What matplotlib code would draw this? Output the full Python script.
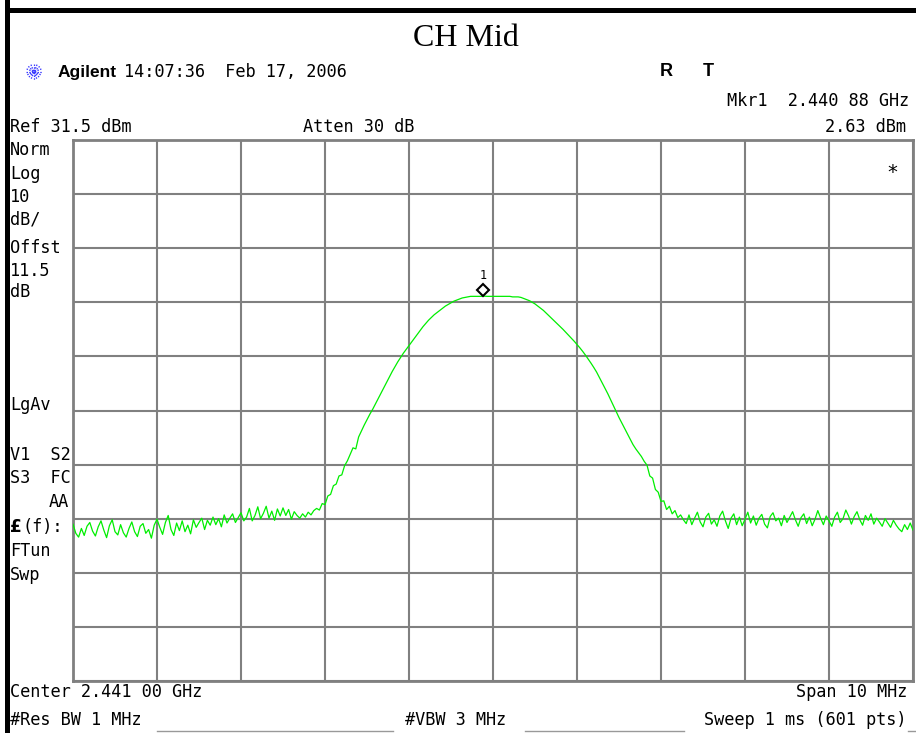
import numpy as np
import matplotlib
matplotlib.use("Agg")
import matplotlib.pyplot as plt
import matplotlib.transforms as mtransforms

# analyzer settings
center_ghz = 2.441
span_mhz = 10.0
ref_dbm = 31.5
db_per_div = 10.0
mkr_freq_ghz = 2.44088
mkr_level_dbm = 2.63

# trace levels (dBm), 301 samples across the span
floor_left = [
    -39.5, -41.2, -41.9, -40.3, -41.6, -39.9, -39.2, -40.8, -41.7, -40.0,
    -38.9, -40.6, -42.0, -39.8, -38.7, -40.9, -41.5, -39.6, -41.1, -41.9,
    -40.3, -39.1, -40.9, -41.8, -39.9, -39.4, -41.2, -40.5, -42.1, -39.7,
    -38.6, -40.1, -41.4, -39.2, -37.9, -40.5, -41.6, -39.3, -40.7, -38.9,
    -40.9, -39.7, -41.3, -38.7, -40.1, -39.2, -38.4, -40.5, -38.8, -39.7,
    -38.2, -39.6, -38.5, -40.0, -37.8, -39.3, -38.4, -37.6, -39.2, -38.3,
    -37.4, -38.9, -38.2, -36.6, -38.9, -37.9, -36.3, -38.5, -37.5, -36.2,
    -38.4, -37.1, -38.8, -36.7, -38.0, -36.5, -37.9, -36.8, -38.6, -37.2, -37.9,
]
rise = [
    -38.4, -37.6, -38.2, -37.3, -37.8, -37.0, -36.6,
    -36.9, -35.7, -35.9, -34.3, -34.0, -32.4, -32.1, -30.6, -30.4, -28.7,
    -27.8, -26.6, -25.4, -25.6, -23.4, -22.3, -21.2, -20.2, -19.2, -18.3,
    -17.3, -16.3, -15.3, -14.3, -13.3, -12.3, -11.3, -10.4, -9.5, -8.7,
    -7.9, -7.2, -6.5, -5.8, -5.1, -4.4, -3.7, -3.0, -2.4, -1.8,
    -1.3, -0.8, -0.4, 0.0, 0.4, 0.8, 1.1, 1.4, 1.7, 1.9,
    2.1, 2.3, 2.4, 2.5,
]
top = [2.6, 2.6, 2.6, 2.6, 2.6, 2.63, 2.6, 2.6, 2.6, 2.6, 2.6, 2.6, 2.6, 2.6, 2.6, 2.5]
fall = [
    2.5, 2.5, 2.4, 2.2, 2.0, 1.8, 1.5, 1.2, 0.8, 0.4,
    0.0, -0.5, -1.0, -1.5, -2.0, -2.5, -3.0, -3.5, -4.05, -4.6,
    -5.15, -5.7, -6.3, -6.9, -7.55, -8.25, -9.0, -9.75, -10.55, -11.4,
    -12.4, -13.4, -14.4, -15.4, -16.5, -17.6, -18.7, -19.8, -20.8, -21.8,
    -22.8, -23.8, -24.8, -25.6, -26.3, -27.0, -27.9, -28.6, -30.6, -31.0,
    -33.1, -33.6, -35.3, -35.2, -36.8, -36.2, -37.6, -37.0, -38.3, -37.8,
    -38.7,
]
floor_right = [
    -39.4, -37.8, -39.6, -38.4, -37.3, -39.1, -40.0, -38.2, -37.5, -39.5,
    -38.7, -39.9, -38.0, -37.1, -38.9, -40.3, -38.4, -37.6, -39.6, -38.2,
    -39.8, -38.6, -37.3, -39.3, -38.0, -39.7, -38.4, -37.7, -39.5, -40.2,
    -38.1, -37.4, -38.9, -38.4, -39.8, -37.9, -39.2, -38.2, -37.2, -38.7,
    -39.9, -38.3, -37.6, -39.4, -38.2, -39.8, -38.6, -37.0, -38.4, -39.6,
    -38.0, -38.9, -39.9, -38.2, -37.3, -39.2, -38.5, -36.9, -38.0, -39.5,
    -38.1, -37.2, -38.7, -39.7, -37.9, -38.8, -37.6, -39.5, -38.4, -39.1,
    -39.9, -38.5, -39.3, -40.1, -38.8, -39.7, -40.4, -40.9, -39.6, -40.5,
    -39.3, -40.6,
]
trace = np.array(floor_left + rise + top + fall + floor_right)

f_start = center_ghz - span_mhz / 2000
f_stop = center_ghz + span_mhz / 2000
freqs = np.linspace(f_start, f_stop, len(trace))

W, H = 916, 733
fig = plt.figure(figsize=(W / 100, H / 100), dpi=100)
fig.patch.set_facecolor("white")

# pixel-space layer for the screen annotations
deco = fig.add_axes([0, 0, 1, 1])
deco.set_xlim(0, W)
deco.set_ylim(H, 0)
deco.axis("off")
deco.patch.set_visible(False)

mono = "DejaVu Sans Mono"
fs = 12.2

# page frame
deco.fill_between([5, 9.5], 0, H, color="black", lw=0)
deco.fill_between([5, W], 8, 12.5, color="black", lw=0)

deco.text(466, 38, "CH Mid", family="Liberation Serif", fontsize=23,
          ha="center", va="center")

# Agilent starburst
for ang in np.arange(0, 180, 22.5):
    a = np.deg2rad(ang)
    dx, dy = 8 * np.cos(a), 8 * np.sin(a)
    deco.plot([34 - dx, 34 + dx], [72 - dy, 72 + dy], color="#3a3aff",
              lw=0.9, ls=(0, (1.2, 1.0)))
deco.text(58, 72, "Agilent", family="Liberation Sans", fontweight="bold",
          fontsize=12.5, ha="left", va="center")
deco.text(124, 72, "14:07:36  Feb 17, 2006", family=mono, fontsize=fs,
          ha="left", va="center")
deco.text(660, 72, "R", family="Liberation Sans", fontweight="bold",
          fontsize=13, ha="left", va="center")
deco.text(703, 72, "T", family="Liberation Sans", fontweight="bold",
          fontsize=13, ha="left", va="center")

deco.text(909, 101, "Mkr1  2.440 88 GHz", family=mono, fontsize=fs,
          ha="right", va="center")
deco.text(10, 127, "Ref 31.5 dBm", family=mono, fontsize=fs, ha="left", va="center")
deco.text(303, 127, "Atten 30 dB", family=mono, fontsize=fs, ha="left", va="center")
deco.text(906, 127, "2.63 dBm", family=mono, fontsize=fs, ha="right", va="center")

side = [("Norm", 150), ("Log", 174), ("10", 197), ("dB/", 220), ("Offst", 248),
        ("11.5", 271), ("dB", 292), ("LgAv", 405), ("V1  S2", 455),
        ("S3  FC", 478)]
for s, y in side:
    deco.text(10, y, s, family=mono, fontsize=fs, ha="left", va="center")
deco.text(69, 502, "AA", family=mono, fontsize=fs, ha="right", va="center")
deco.text(10, 527, "£", family="DejaVu Sans", fontweight="bold", fontsize=fs,
          ha="left", va="center")
deco.text(23, 527, "(f):", family=mono, fontsize=fs, ha="left", va="center")
deco.text(10, 551, "FTun", family=mono, fontsize=fs, ha="left", va="center")
deco.text(10, 575, "Swp", family=mono, fontsize=fs, ha="left", va="center")

deco.text(10, 692, "Center 2.441 00 GHz", family=mono, fontsize=fs, ha="left", va="center")
deco.text(907, 692, "Span 10 MHz", family=mono, fontsize=fs, ha="right", va="center")
deco.text(10, 720, "#Res BW 1 MHz", family=mono, fontsize=fs, ha="left", va="center")
deco.text(405, 720, "#VBW 3 MHz", family=mono, fontsize=fs, ha="left", va="center")
deco.text(907, 720, "Sweep 1 ms (601 pts)", family=mono, fontsize=fs, ha="right", va="center")
for x0, x1 in [(157, 393), (525, 684), (908, 916)]:
    deco.plot([x0, x1], [731, 731], color="#999999", lw=1)

# graticule
ax = fig.add_axes([73 / W, 1 - 681 / H, 840 / W, 541 / H])
ax.set_xlim(f_start, f_stop)
ax.set_ylim(ref_dbm - 10 * db_per_div, ref_dbm)
ax.set_xticks(np.linspace(f_start, f_stop, 11))
ax.set_yticks(np.arange(ref_dbm - 10 * db_per_div, ref_dbm + 1, db_per_div))
ax.tick_params(length=0, labelbottom=False, labelleft=False)
ax.grid(True, color="#808080", lw=1.5)
for sp in ax.spines.values():
    sp.set_color("#808080")
    sp.set_linewidth(2)

ax.plot(freqs, trace, color="#00ee00", lw=0.9, zorder=3)

# marker 1
mk_tr = mtransforms.offset_copy(ax.transData, fig=fig, x=0, y=4.5, units="points")
ax.plot([mkr_freq_ghz], [mkr_level_dbm], marker="D", ms=6.5, mfc="white",
        mec="black", mew=1.5, transform=mk_tr, zorder=4, clip_on=False)
lbl_tr = mtransforms.offset_copy(ax.transData, fig=fig, x=0, y=15, units="points")
ax.text(mkr_freq_ghz, mkr_level_dbm, "1", family=mono, fontsize=8.5,
        ha="center", va="center", transform=lbl_tr)
ax.text(0.975, 0.94, "*", family=mono, fontsize=14, ha="center", va="center",
        transform=ax.transAxes)

fig.savefig("out.png", dpi=100)
